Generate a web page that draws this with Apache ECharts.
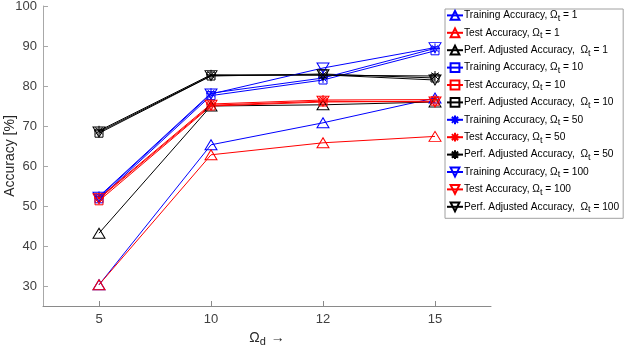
<!DOCTYPE html>
<html><head><meta charset="utf-8">
<script src="https://cdn.jsdelivr.net/npm/echarts@6/dist/echarts.min.js"></script>
<style>html,body{margin:0;padding:0;background:#fff}#c{width:624px;height:346px}</style>
</head><body><div id="c"></div>
<script>
const categories = ['5', '10', '12', '15'];
const yTicks = [30, 40, 50, 60, 70, 80, 90, 100];

const train1 = [30.3, 65.3, 70.8, 77.0];
const test1 = [30.3, 62.8, 65.8, 67.4];
const perf1 = [43.2, 75.0, 75.3, 76.0];
const train10 = [51.8, 77.6, 81.5, 88.8];
const test10 = [51.3, 75.0, 76.0, 76.2];
const perf10 = [68.2, 82.5, 83.0, 82.0];
const train50 = [52.4, 78.2, 82.0, 89.4];
const test50 = [52.0, 75.5, 76.5, 76.6];
const perf50 = [68.8, 82.8, 82.7, 82.5];
const train100 = [52.2, 78.0, 84.5, 89.6];
const test100 = [51.8, 75.2, 76.2, 76.0];
const perf100 = [68.5, 82.6, 82.8, 81.5];

const BLUE = '#0000ff', RED = '#ff0000', BLACK = '#000000';
const SYM = {
  up: 'path://M5,0 L10,9 L0,9 Z',
  sq: 'path://M0,0 L10,0 L10,10 L0,10 Z',
  star: 'path://M5,0 L5,10 M0,5 L10,5 M1.5,1.5 L8.5,8.5 M8.5,1.5 L1.5,8.5',
  down: 'path://M0,0 L10,0 L5,9 Z'
};
const SIZE = { up: [12, 10], sq: [8, 8], star: [10, 10], down: [12, 10] };

function mk(name, data, color, sym) {
  return {
    name: name, type: 'line', data: data, color: color,
    symbol: SYM[sym], symbolSize: SIZE[sym], showSymbol: true,
    itemStyle: { color: 'rgba(0,0,0,0)', borderColor: color, borderWidth: 1 },
    lineStyle: { color: color, width: 1 },
    emphasis: { disabled: true }, animation: false
  };
}
const series = [
  mk('Training Accuracy, Ω_t = 1', train1, BLUE, 'up'),
  mk('Test Accuracy, Ω_t = 1', test1, RED, 'up'),
  mk('Perf. Adjusted Accuracy,  Ω_t = 1', perf1, BLACK, 'up'),
  mk('Training Accuracy, Ω_t = 10', train10, BLUE, 'sq'),
  mk('Test Accuracy, Ω_t = 10', test10, RED, 'sq'),
  mk('Perf. Adjusted Accuracy,  Ω_t = 10', perf10, BLACK, 'sq'),
  mk('Training Accuracy, Ω_t = 50', train50, BLUE, 'star'),
  mk('Test Accuracy, Ω_t = 50', test50, RED, 'star'),
  mk('Perf. Adjusted Accuracy,  Ω_t = 50', perf50, BLACK, 'star'),
  mk('Training Accuracy, Ω_t = 100', train100, BLUE, 'down'),
  mk('Test Accuracy, Ω_t = 100', test100, RED, 'down'),
  mk('Perf. Adjusted Accuracy,  Ω_t = 100', perf100, BLACK, 'down')
];

const FONT = 'Liberation Sans';
const chart = echarts.init(document.getElementById('c'), null, { renderer: 'canvas' });
chart.setOption({
  animation: false,
  backgroundColor: '#fff',
  grid: { left: 43, right: 133, top: 6, bottom: 40, containLabel: false, outerBoundsMode: 'none' },
  xAxis: {
    type: 'category', data: categories, boundaryGap: true,
    axisLine: { lineStyle: { color: '#8a8a8a', width: 1 } },
    axisTick: { show: true, inside: true, alignWithLabel: true, length: 5, lineStyle: { color: '#8a8a8a' } },
    axisLabel: { color: '#404040', fontSize: 13, fontFamily: FONT, margin: 7 },
    splitLine: { show: false },
    name: 'Ω{sub|d} →', nameLocation: 'middle', nameGap: 19,
    nameTextStyle: { color: '#262626', fontSize: 14, fontFamily: FONT,
      rich: { sub: { fontSize: 11, fontFamily: FONT, color: '#262626', padding: [8, 1, 0, 0] } } }
  },
  yAxis: {
    type: 'value', min: 25, max: 100,
    axisLine: { show: true, lineStyle: { color: '#a8a8a8', width: 1 } },
    axisTick: { show: true, inside: true, length: 5, customValues: yTicks, lineStyle: { color: '#a8a8a8' } },
    axisLabel: { color: '#404040', fontSize: 13, fontFamily: FONT, margin: 6, customValues: yTicks },
    splitLine: { show: false },
    name: 'Accuracy [%]', nameLocation: 'middle', nameGap: 26, nameRotate: 90, nameMoveOverlap: false,
    nameTextStyle: { color: '#262626', fontSize: 14, fontFamily: FONT }
  },
  legend: {
    orient: 'vertical', left: 445, top: 9,
    backgroundColor: '#fff', borderColor: '#a0a0a0', borderWidth: 1,
    padding: [1, 4, 4, 1], itemGap: 4.5, itemWidth: 16, itemHeight: 11,
    textStyle: { fontSize: 10.2, fontFamily: FONT, color: '#000', padding: [0, 0, 0, -4],
      rich: { sub: { fontSize: 9, fontFamily: FONT, color: '#000', padding: [6, 0, 0, 0] } } },
    formatter: function (n) { return n.replace('_t', '{sub|t}'); },
    data: series.map(s => s.name)
  },
  series: series
});
</script></body></html>
